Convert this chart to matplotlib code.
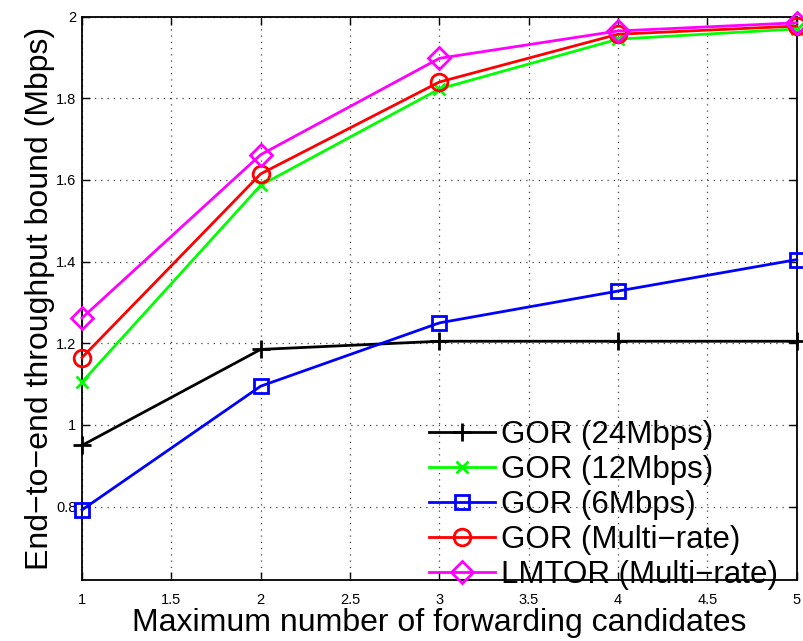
import matplotlib
matplotlib.use("Agg")
import matplotlib.pyplot as plt

x = [1, 2, 3, 4, 5]
gor24 = [0.95, 1.185, 1.205, 1.205, 1.205]
gor12 = [1.105, 1.587, 1.823, 1.945, 1.97]
gor6 = [0.792, 1.095, 1.25, 1.328, 1.405]
gormulti = [1.165, 1.615, 1.84, 1.957, 1.977]
lmtor = [1.262, 1.662, 1.898, 1.965, 1.985]
labels = ["GOR (24Mbps)", "GOR (12Mbps)", "GOR (6Mbps)", "GOR (Multi\u2212rate)", "LMTOR (Multi\u2212rate)"]
xticks = [1, 1.5, 2, 2.5, 3, 3.5, 4, 4.5, 5]
yticks = [0.8, 1, 1.2, 1.4, 1.6, 1.8, 2]

plt.rcParams['font.family'] = ['Liberation Sans', 'DejaVu Sans']

fig = plt.figure(figsize=(8.04, 6.41), dpi=100)
ax = fig.add_axes([0.102, 0.095, 0.889, 0.879])

lw = 2.0
common = dict(lw=lw, clip_on=False, zorder=3)
ax.plot(x, gor24, color='black', marker='+', markersize=13, markeredgewidth=2, label=labels[0], **common)
ax.plot(x, gor12, color='#00ff00', marker='x', markersize=9, markeredgewidth=2, label=labels[1], **common)
ax.plot(x, gor6, color='#0000ff', marker='s', markersize=10, markerfacecolor='none', markeredgewidth=2, label=labels[2], **common)
ax.plot(x, gormulti, color='#ff0000', marker='o', markersize=12, markerfacecolor='none', markeredgewidth=2, label=labels[3], **common)
ax.plot(x, lmtor, color='#ff00ff', marker='D', markersize=11, markerfacecolor='none', markeredgewidth=2, label=labels[4], **common)

ax.set_xlim(1, 5)
ax.set_ylim(0.62, 2)
ax.set_xticks(xticks)
ax.set_xticklabels([f"{t:g}" for t in xticks])
ax.set_yticks(yticks)
ax.set_yticklabels([f"{t:g}" for t in yticks])
ax.tick_params(direction='in', top=True, right=True, labelsize=10.5, length=6, width=1)
ax.tick_params(axis='x', pad=9)
ax.tick_params(axis='y', pad=4)
ax.grid(True, linestyle=(0, (1, 4)), color='#444444', linewidth=0.9)
for s in ax.spines.values():
    s.set_linewidth(1.3)

ax.set_xlabel("Maximum number of forwarding candidates", fontsize=23, labelpad=1)
ax.set_ylabel("End\u2212to\u2212end throughput bound (Mbps)", fontsize=23, labelpad=1)

leg = ax.legend(loc='lower right', bbox_to_anchor=(1.0, -0.05), frameon=False, fontsize=22.5,
                handlelength=2.1, handletextpad=0.2, labelspacing=0.16, borderaxespad=0.2)

fig.savefig("out.png", dpi=100)
